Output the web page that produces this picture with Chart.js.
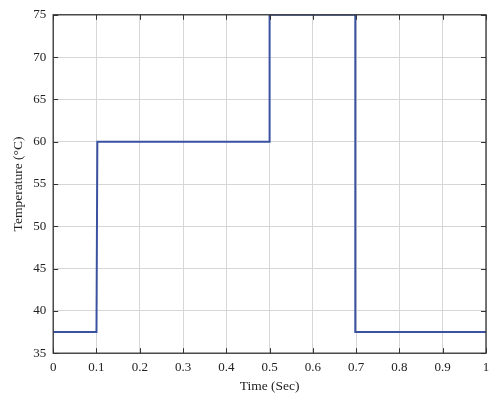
<!DOCTYPE html>
<html><head><meta charset="utf-8">
<script src="https://cdn.jsdelivr.net/npm/chart.js@4/dist/chart.umd.min.js"></script>
<style>html,body{margin:0;padding:0;background:#fff}#w{width:500px;height:400px}</style>
</head><body><div id="w"><canvas id="c"></canvas></div>
<script>
const timeSec = [0, 0.1, 0.102, 0.5, 0.5, 0.698, 0.698, 1.0];
const tempC   = [37.5, 37.5, 60, 60, 75, 75, 37.5, 37.5];
const xTicks = [0,0.1,0.2,0.3,0.4,0.5,0.6,0.7,0.8,0.9,1];
const yTicks = [35,40,45,50,55,60,65,70,75];
const xTitle = 'Time (Sec)';
const yTitle = 'Temperature (\u00B0C)';

const pts = timeSec.map((t,i)=>({x:t,y:tempC[i]}));
const FONT = "'Liberation Serif','Times New Roman',serif";

const boxTicks = {
  id:'boxTicks',
  afterDatasetsDraw(chart){
    const {ctx, chartArea:a, scales:{x,y}} = chart;
    ctx.save();
    ctx.strokeStyle = '#333';
    ctx.lineWidth = 1;
    ctx.beginPath();
    const L = 5;
    xTicks.forEach(v=>{
      const px = Math.round(x.getPixelForValue(v))+0.5;
      ctx.moveTo(px,a.bottom); ctx.lineTo(px,a.bottom-L);
      ctx.moveTo(px,a.top); ctx.lineTo(px,a.top+L);
    });
    yTicks.forEach(v=>{
      const py = Math.round(y.getPixelForValue(v))+0.5;
      ctx.moveTo(a.left,py); ctx.lineTo(a.left+L,py);
      ctx.moveTo(a.right,py); ctx.lineTo(a.right-L,py);
    });
    ctx.stroke();
    ctx.lineWidth = 1.3;
    ctx.strokeRect(a.left, a.top, a.right-a.left, a.bottom-a.top);
    ctx.restore();
  }
};

new Chart(document.getElementById('c'), {
  type:'scatter',
  data:{datasets:[{data:pts, showLine:true, borderColor:'#3a52a0', borderWidth:2, pointRadius:0, fill:false, tension:0}]},
  options:{
    responsive:true, maintainAspectRatio:false, animation:false,
    layout:{padding:{left:10,right:14,top:8,bottom:5}},
    plugins:{legend:{display:false}, tooltip:{enabled:false}},
    scales:{
      x:{type:'linear', min:0, max:1,
        afterBuildTicks(s){ s.ticks = xTicks.map(v=>({value:v})); },
        ticks:{color:'#222', font:{family:FONT,size:13}, padding:7, maxRotation:0,
          callback:(v)=>String(Math.round(v*10)/10)},
        grid:{color:'#d6d6d6', lineWidth:1, drawTicks:false},
        border:{display:false},
        title:{display:true, text:xTitle, color:'#222', font:{family:FONT,size:13.5}, padding:{top:-4,bottom:0}}
      },
      y:{type:'linear', min:35, max:75,
        afterBuildTicks(s){ s.ticks = yTicks.map(v=>({value:v})); },
        ticks:{color:'#222', font:{family:FONT,size:13}, padding:7},
        grid:{color:'#d6d6d6', lineWidth:1, drawTicks:false},
        border:{display:false},
        title:{display:true, text:yTitle, color:'#222', font:{family:FONT,size:13.5}, padding:{top:0,bottom:0}}
      }
    }
  },
  plugins:[boxTicks]
});
</script>
</body></html>
